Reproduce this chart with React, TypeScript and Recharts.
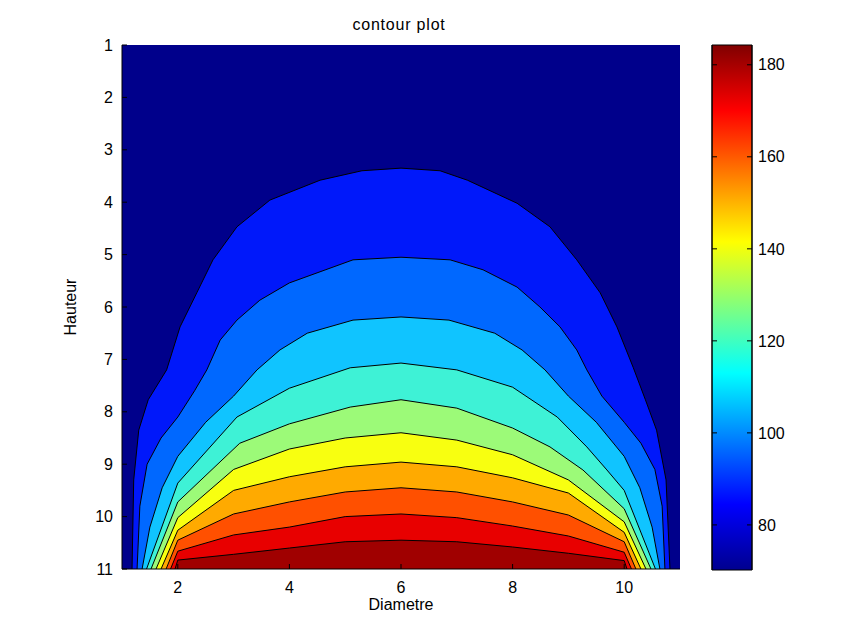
import React from 'react';
import { ComposedChart, Area, XAxis, YAxis, ReferenceArea } from 'recharts';

// ---------- axis ticks ----------
const xTicks = [2, 4, 6, 8, 10];
const yTicks = [1, 2, 3, 4, 5, 6, 7, 8, 9, 10, 11];
const colorbarTicks = [80, 100, 120, 140, 160, 180];
const colorbarRange = [70.2, 184.3];

// ---------- contour levels (value of each filled region's lower bound) ----------
const levelValues = [70, 90, 100, 110, 120, 130, 140, 150, 160, 170, 180];

// ---------- contour lines as [Diametre, Hauteur] points ----------
const region70 = [[1, 1], [11, 1]];
const contour90 = [
  [1.18, 11], [1.21, 9.3], [1.3, 8.35], [1.47, 7.77], [1.8, 7.2], [2.04, 6.38], [2.34, 5.73],
  [2.63, 5.1], [3.06, 4.47], [3.65, 3.96], [4.55, 3.58], [5.3, 3.4], [6, 3.35], [6.7, 3.4],
  [7.19, 3.58], [8.08, 4.02], [8.67, 4.47], [9.15, 5.1], [9.57, 5.73], [9.87, 6.38],
  [10.16, 7.15], [10.38, 7.77], [10.58, 8.35], [10.75, 9.3], [10.82, 11],
];
const contour100 = [
  [1.27, 11], [1.32, 9.8], [1.45, 9.0], [1.7, 8.5], [2, 8.1], [2.3, 7.6], [2.52, 7.2],
  [2.76, 6.63], [3.06, 6.25], [3.47, 5.87], [4, 5.54], [5.14, 5.1], [6, 5.05], [6.88, 5.1],
  [7.47, 5.29], [8.08, 5.62], [8.49, 6.0], [8.85, 6.38], [9.15, 6.82], [9.33, 7.2],
  [9.6, 7.7], [10, 8.2], [10.3, 8.6], [10.55, 9.1], [10.68, 9.8], [10.73, 11],
];
const contour110 = [
  [1.36, 11], [1.5, 10.2], [1.72, 9.45], [2, 8.85], [2.5, 8.2], [3, 7.7], [3.42, 7.2],
  [3.83, 6.82], [4.32, 6.5], [5.14, 6.25], [6, 6.19], [6.86, 6.25], [7.68, 6.5], [8.17, 6.82],
  [8.58, 7.2], [9, 7.7], [9.5, 8.2], [10, 8.85], [10.28, 9.45], [10.5, 10.2], [10.64, 11],
];
const contour120 = [
  [1.44, 11], [2, 9.36], [3.06, 8.1], [4, 7.55], [5.09, 7.16], [6, 7.07], [7, 7.2], [8, 7.53],
  [8.8, 8.1], [9.33, 8.67], [9.69, 9.11], [10, 9.5], [10.56, 11],
];
const contour130 = [
  [1.52, 11], [2, 9.72], [3.11, 8.6], [4, 8.23], [5.09, 7.91], [6, 7.77], [7, 7.93], [8, 8.31],
  [8.67, 8.67], [9.26, 9.11], [10, 9.85], [10.48, 11],
];
const contour140 = [
  [1.61, 11], [2, 10.02], [3, 9.1], [4, 8.71], [5, 8.5], [6, 8.4], [7, 8.54], [8, 8.82],
  [9, 9.3], [10, 10.1], [10.39, 11],
];
const contour150 = [
  [1.7, 11], [2, 10.26], [3, 9.5], [4, 9.24], [5, 9.05], [6, 8.96], [7, 9.05], [8, 9.26],
  [9, 9.55], [10, 10.3], [10.3, 11],
];
const contour160 = [
  [1.79, 11], [2, 10.45], [3, 9.95], [4, 9.72], [5, 9.53], [6, 9.45], [7, 9.53], [8, 9.72],
  [9, 9.97], [10, 10.48], [10.21, 11],
];
const contour170 = [
  [1.87, 11], [2, 10.66], [3, 10.35], [4, 10.2], [5, 10.0], [6, 9.95], [7, 10.02], [8, 10.18],
  [9, 10.37], [10, 10.68], [10.13, 11],
];
const contour180 = [
  [1.95, 11], [2, 10.83], [3, 10.72], [4, 10.6], [5, 10.48], [6, 10.45], [7, 10.48], [8, 10.58],
  [9, 10.7], [10, 10.84], [10.05, 11],
];

// ---------- styles ----------
const bandColors = [
  '#00008B', '#0018FA', '#0068FF', '#10C4FF', '#3EF2D6', '#9CFA78',
  '#F8FF10', '#FFAA00', '#FF5000', '#E80000', '#A00000',
];
const FONT = '"Liberation Sans", Arial, Helvetica, sans-serif';

const regions = [
  region70, contour90, contour100, contour110, contour120, contour130,
  contour140, contour150, contour160, contour170, contour180,
];
const toPoints = (arr: number[][]) => arr.map(([x, y]) => ({ x, y }));

const tickStyle = { fill: '#000', fontSize: 16, fontFamily: FONT };

export default function App() {
  return (
    <div style={{ position: 'absolute', left: 0, top: 0, width: 854, height: 631, background: '#fff', fontFamily: FONT }}>
      <div style={{ position: 'absolute', left: 0, top: 0 }}>
        <ComposedChart width={854} height={631} margin={{ top: 45, right: 174, bottom: 22, left: 72 }}>
          {regions.map((r, i) => (
            <Area
              key={levelValues[i]}
              name={String(levelValues[i])}
              data={toPoints(r)}
              dataKey="y"
              type="linear"
              baseValue={11}
              fill={bandColors[i]}
              fillOpacity={1}
              stroke={i === 0 ? 'none' : '#000'}
              strokeWidth={1}
              dot={false}
              activeDot={false}
              isAnimationActive={false}
            />
          ))}
          <XAxis
            type="number"
            dataKey="x"
            domain={[1, 11]}
            ticks={xTicks}
            allowDataOverflow
            height={40}
            tickSize={-5}
            tickMargin={18}
            tick={tickStyle}
            stroke="#000"
          />
          <YAxis
            type="number"
            domain={[1, 11]}
            reversed
            ticks={yTicks}
            allowDataOverflow
            width={50}
            tickSize={-5}
            tickMargin={14}
            tick={tickStyle}
            stroke="#000"
          />
        </ComposedChart>
      </div>
      <div style={{ position: 'absolute', left: 0, top: 0 }}>
        <ComposedChart width={854} height={631} margin={{ top: 45, right: 42, bottom: 61, left: 702 }}>
          <defs>
            <linearGradient id="jetGrad" x1="0" y1="1" x2="0" y2="0">
              <stop offset="0" stopColor="#00008F" />
              <stop offset="0.125" stopColor="#0000FF" />
              <stop offset="0.375" stopColor="#00FFFF" />
              <stop offset="0.625" stopColor="#FFFF00" />
              <stop offset="0.875" stopColor="#FF0000" />
              <stop offset="1" stopColor="#800000" />
            </linearGradient>
          </defs>
          <XAxis type="number" dataKey="x" domain={[0, 1]} hide allowDataOverflow />
          <YAxis
            yAxisId="l"
            orientation="left"
            type="number"
            domain={colorbarRange}
            ticks={colorbarTicks}
            allowDataOverflow
            width={10}
            tickSize={-5}
            tickFormatter={() => ''}
            stroke="#000"
          />
          <YAxis
            yAxisId="r"
            orientation="right"
            type="number"
            domain={colorbarRange}
            ticks={colorbarTicks}
            allowDataOverflow
            width={60}
            tickSize={-5}
            tickMargin={11}
            tick={tickStyle}
            stroke="#000"
          />
          <ReferenceArea
            yAxisId="r"
            x1={0}
            x2={1}
            y1={colorbarRange[0]}
            y2={colorbarRange[1]}
            fill="url(#jetGrad)"
            fillOpacity={1}
            stroke="#000"
            ifOverflow="visible"
          />
        </ComposedChart>
      </div>
      <div style={{ position: 'absolute', left: 299, top: 16, width: 200, textAlign: 'center', fontSize: 16, letterSpacing: 0.8, color: '#000' }}>
        contour plot
      </div>
      <div style={{ position: 'absolute', left: 301, top: 596, width: 200, textAlign: 'center', fontSize: 16, color: '#000' }}>
        Diametre
      </div>
      <div
        style={{
          position: 'absolute', left: 21, top: 298, width: 100, textAlign: 'center', fontSize: 16, color: '#000',
          transform: 'rotate(-90deg)',
        }}
      >
        Hauteur
      </div>
    </div>
  );
}
